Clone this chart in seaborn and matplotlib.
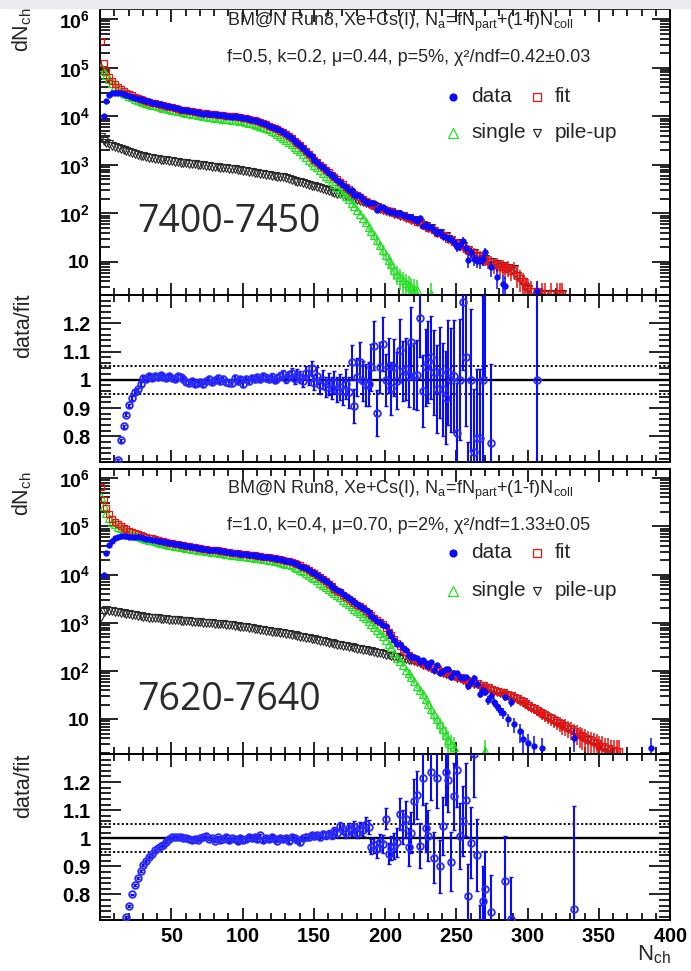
import numpy as np
import pandas as pd
import matplotlib
matplotlib.use("Agg")
import matplotlib.pyplot as plt
import seaborn as sns
from matplotlib.lines import Line2D
from matplotlib.patches import Rectangle
from matplotlib.ticker import FixedLocator, MultipleLocator, LogLocator, NullFormatter, FuncFormatter

nan = np.nan
BIN_START, BIN_WIDTH = 0.5, 2.0   # N_ch bin centres: 0.5, 2.5, 4.5, ...

# ================= panel 1 : 7400-7450 (log10 of dN_ch) =================
fit1_log10 = [
    5.56, 5.10, 4.93, 4.81, 4.72, 4.66, 4.61, 4.57, 4.53, 4.49,
    4.46, 4.43, 4.40, 4.38, 4.36, 4.34, 4.32, 4.30, 4.28, 4.27,
    4.26, 4.24, 4.23, 4.21, 4.20, 4.19, 4.17, 4.16, 4.14, 4.13,
    4.12, 4.11, 4.10, 4.09, 4.08, 4.07, 4.06, 4.06, 4.05, 4.04,
    4.04, 4.03, 4.02, 4.02, 4.01, 4.01, 4.00, 4.00, 3.99, 3.98,
    3.97, 3.96, 3.95, 3.93, 3.92, 3.90, 3.88, 3.86, 3.84, 3.81,
    3.79, 3.76, 3.73, 3.70, 3.67, 3.63, 3.59, 3.55, 3.50, 3.45,
    3.40, 3.34, 3.28, 3.22, 3.16, 3.10, 3.05, 3.00, 2.95, 2.90,
    2.85, 2.80, 2.75, 2.70, 2.65, 2.60, 2.55, 2.50, 2.45, 2.41,
    2.37, 2.33, 2.29, 2.25, 2.22, 2.19, 2.16, 2.13, 2.11, 2.09,
    2.07, 2.04, 2.04, 2.00, 1.99, 1.96, 1.96, 1.92, 1.91, 1.88,
    1.87, 1.83, 1.82, 1.77, 1.75, 1.70, 1.70, 1.65, 1.60, 1.60,
    1.55, 1.54, 1.48, 1.47, 1.41, 1.40, 1.34, 1.33, 1.26, 1.26,
    1.20, 1.19, 1.13, 1.12, 1.06, 1.07, 1.01, 1.00, 0.94, 0.96,
    0.90, 0.92, 0.86, 0.88, 0.82, 0.86, 0.72, 0.66, 0.60, 0.50,
    0.45, 0.40, nan, 0.40, nan, 0.35, 0.35, nan, 0.35, nan,
    0.35, 0.35, 0.35]
single1_log10 = [
    5.02, 4.93, 4.85, 4.76, 4.68, 4.62, 4.57, 4.53, 4.49, 4.45,
    4.42, 4.39, 4.36, 4.34, 4.32, 4.30, 4.28, 4.26, 4.24, 4.23,
    4.21, 4.20, 4.18, 4.17, 4.15, 4.14, 4.12, 4.11, 4.10, 4.08,
    4.07, 4.06, 4.05, 4.04, 4.03, 4.02, 4.01, 4.00, 3.99, 3.98,
    3.97, 3.97, 3.96, 3.95, 3.95, 3.94, 3.93, 3.93, 3.92, 3.91,
    3.90, 3.89, 3.87, 3.86, 3.84, 3.83, 3.81, 3.78, 3.76, 3.73,
    3.70, 3.67, 3.64, 3.60, 3.56, 3.52, 3.47, 3.42, 3.37, 3.33,
    3.29, 3.23, 3.17, 3.11, 3.05, 3.00, 2.95, 2.90, 2.84, 2.78,
    2.72, 2.66, 2.60, 2.54, 2.48, 2.42, 2.36, 2.29, 2.22, 2.15,
    2.07, 1.99, 1.91, 1.82, 1.73, 1.64, 1.55, 1.45, 1.35, 1.25,
    1.15, 1.04, 0.95, 0.84, 0.76, 0.69, 0.62, 0.56, 0.52, 0.48,
    0.45, 0.42, nan, nan, nan, nan, 0.35]
pileup1_log10 = [
    3.57, 3.50, 3.46, 3.42, 3.39, 3.36, 3.34, 3.32, 3.30, 3.28,
    3.26, 3.24, 3.22, 3.21, 3.19, 3.18, 3.16, 3.15, 3.14, 3.13,
    3.12, 3.11, 3.10, 3.09, 3.08, 3.07, 3.06, 3.05, 3.04, 3.03,
    3.03, 3.02, 3.02, 3.01, 3.00, 3.00, 2.99, 2.98, 2.97, 2.96,
    2.96, 2.95, 2.94, 2.94, 2.93, 2.92, 2.92, 2.91, 2.90, 2.89,
    2.88, 2.87, 2.86, 2.85, 2.84, 2.83, 2.82, 2.81, 2.80, 2.79,
    2.78, 2.77, 2.76, 2.75, 2.74, 2.72, 2.71, 2.69, 2.67, 2.65,
    2.64, 2.62, 2.61, 2.59, 2.57, 2.56, 2.54, 2.52, 2.50, 2.49,
    2.47, 2.45, 2.43, 2.41, 2.39, 2.37, 2.35, 2.33, 2.31, 2.29,
    2.27, 2.25, 2.23, 2.21, 2.19, 2.17, 2.15, 2.13, 2.10, 2.08,
    2.06, 2.03, 2.02, 1.99, 1.98, 1.95, 1.95, 1.91, 1.90, 1.87,
    1.86, 1.82, 1.81, 1.76, 1.74, 1.69, 1.69, 1.64, 1.59, 1.59,
    1.54, 1.53, 1.47, 1.46, 1.40, 1.39, 1.33, 1.32, 1.25, 1.25,
    1.19, 1.18, 1.12, 1.11, 1.05, 1.06, 1.00, 0.99, 0.93, 0.95,
    0.89, 0.91, 0.85, 0.87, 0.81, 0.85, 0.71, 0.65, 0.59, 0.49,
    0.44, 0.39, nan, 0.39, nan, 0.34, 0.34, nan, 0.34, nan,
    0.34, 0.34, 0.34]
data1_log10 = [
    nan, 4.00, 4.32, 4.43, 4.48, 4.47, 4.47, 4.47, 4.45, 4.43,
    4.42, 4.40, 4.38, 4.36, 4.35, 4.34, 4.32, 4.31, 4.28, 4.28,
    4.26, 4.25, 4.23, 4.21, 4.21, 4.19, 4.17, 4.17, 4.14, 4.13,
    4.12, 4.10, 4.10, 4.08, 4.08, 4.07, 4.05, 4.06, 4.05, 4.04,
    4.04, 4.03, 4.02, 4.02, 4.01, 4.01, 3.99, 4.00, 3.99, 3.98,
    3.96, 3.96, 3.95, 3.93, 3.92, 3.90, 3.88, 3.87, 3.84, 3.81,
    3.79, 3.76, 3.73, 3.71, 3.68, 3.63, 3.60, 3.56, 3.50, 3.46,
    3.40, 3.34, 3.29, 3.22, 3.18, 3.10, 3.06, 2.99, 2.95, 2.89,
    2.84, 2.79, 2.75, 2.68, 2.64, 2.58, 2.54, 2.48, 2.48, 2.37,
    2.37, 2.36, 2.29, 2.24, 2.21, 2.21, 2.21, 2.08, 2.13, 2.14,
    2.07, 2.06, 2.03, 2.02, 1.99, 2.00, 1.97, 1.94, 1.92, 1.93,
    1.88, 1.84, 1.91, 1.75, 1.77, 1.73, 1.73, 1.66, 1.59, 1.61,
    1.54, 1.51, 1.49, 1.47, 1.42, 1.31, 1.34, 1.44, 1.29, 1.04,
    1.20, 1.06, 1.03, 1.02, 1.06, 1.20, nan, 0.89, nan, 0.70,
    nan, 0.55, 0.50, nan, nan, nan, nan, nan, nan, nan,
    nan, nan, nan, 0.40]
ratio1 = [
    nan, nan, nan, nan, nan, nan, 0.716, 0.786, 0.835, 0.877,
    0.910, 0.935, 0.956, 0.966, 0.985, 1.008, 1.004, 1.012, 1.006, 1.015,
    1.010, 1.016, 1.011, 1.008, 1.014, 1.006, 1.004, 1.012, 1.009, 1.002,
    0.992, 0.988, 0.995, 0.986, 0.990, 0.993, 0.985, 0.996, 1.003, 0.991,
    0.998, 1.008, 0.995, 1.004, 0.992, 0.990, 0.988, 1.006, 0.994, 1.001,
    0.985, 1.002, 0.996, 1.007, 1.004, 1.010, 1.002, 1.012, 1.008, 1.003,
    1.010, 1.000, 1.006, 1.012, 1.020, 1.004, 1.016, 1.024, 1.002, 1.018,
    1.010, 0.995, 1.025, 1.005, 1.040, 0.990, 1.015, 0.980, 1.000, 0.975,
    0.985, 0.970, 0.990, 0.965, 0.975, 0.960, 0.985, 0.955, 1.062, 0.907,
    1.010, 1.062, 0.996, 0.980, 0.985, 1.044, 1.121, 0.883, 1.044, 1.127,
    1.000, 1.050, 0.970, 1.044, 0.996, 1.104, 1.032, 1.038, 1.014, 1.133,
    1.014, 1.017, 1.217, 0.960, 1.044, 1.062, 1.080, 1.026, 0.967, 1.026,
    0.967, 0.937, 1.026, 1.000, 1.014, 0.810, 1.000, 1.276, 1.080, 0.600,
    1.000, 0.746, 0.794, 0.794, 1.000, 1.350, nan, 0.776, nan, nan,
    nan, nan, nan, nan, nan, nan, nan, nan, nan, nan,
    nan, nan, nan, 1.000]

# ================= panel 2 : 7620-7640 (log10 of dN_ch) =================
fit2_log10 = [
    5.82, 5.55, 5.39, 5.26, 5.16, 5.10, 5.05, 5.01, 4.97, 4.94,
    4.91, 4.88, 4.86, 4.84, 4.82, 4.80, 4.78, 4.76, 4.75, 4.73,
    4.72, 4.70, 4.69, 4.68, 4.66, 4.65, 4.64, 4.63, 4.62, 4.61,
    4.60, 4.59, 4.58, 4.57, 4.56, 4.55, 4.54, 4.53, 4.52, 4.51,
    4.50, 4.50, 4.49, 4.48, 4.47, 4.46, 4.45, 4.45, 4.44, 4.43,
    4.42, 4.42, 4.41, 4.40, 4.40, 4.39, 4.38, 4.37, 4.36, 4.36,
    4.35, 4.34, 4.33, 4.32, 4.31, 4.29, 4.28, 4.26, 4.24, 4.21,
    4.19, 4.16, 4.13, 4.10, 4.06, 4.03, 3.99, 3.95, 3.90, 3.86,
    3.81, 3.76, 3.71, 3.67, 3.63, 3.58, 3.54, 3.50, 3.46, 3.42,
    3.38, 3.34, 3.30, 3.25, 3.20, 3.16, 3.11, 3.06, 3.02, 2.97,
    2.90, 2.82, 2.74, 2.66, 2.58, 2.52, 2.46, 2.40, 2.34, 2.29,
    2.25, 2.21, 2.19, 2.15, 2.14, 2.10, 2.09, 2.05, 2.04, 2.00,
    1.99, 1.96, 1.96, 1.92, 1.91, 1.87, 1.87, 1.83, 1.82, 1.78,
    1.79, 1.75, 1.76, 1.72, 1.71, 1.66, 1.67, 1.62, 1.60, 1.59,
    1.56, 1.56, 1.53, 1.51, 1.51, 1.47, 1.44, 1.40, 1.37, 1.33,
    1.30, 1.26, 1.23, 1.19, 1.16, 1.12, 1.09, 1.05, 1.02, 0.98,
    0.95, 0.92, 0.88, 0.86, 0.82, 0.79, 0.75, 0.72, 0.68, 0.65,
    0.62, 0.58, 0.56, 0.52, 0.50, 0.45, 0.45, 0.40, 0.40, 0.36,
    0.36, 0.35, 0.35]
single2_log10 = [
    5.60, 5.42, 5.28, 5.18, 5.10, 5.04, 4.99, 4.96, 4.93, 4.90,
    4.87, 4.84, 4.82, 4.80, 4.78, 4.76, 4.74, 4.72, 4.71, 4.69,
    4.68, 4.66, 4.65, 4.64, 4.62, 4.61, 4.60, 4.59, 4.58, 4.57,
    4.56, 4.55, 4.54, 4.53, 4.52, 4.51, 4.50, 4.49, 4.48, 4.47,
    4.46, 4.46, 4.45, 4.44, 4.43, 4.42, 4.41, 4.41, 4.40, 4.39,
    4.38, 4.38, 4.37, 4.36, 4.35, 4.35, 4.34, 4.33, 4.32, 4.31,
    4.30, 4.29, 4.28, 4.27, 4.25, 4.23, 4.21, 4.19, 4.16, 4.13,
    4.10, 4.07, 4.03, 4.00, 3.96, 3.92, 3.88, 3.83, 3.78, 3.74,
    3.70, 3.66, 3.62, 3.57, 3.53, 3.48, 3.44, 3.39, 3.34, 3.29,
    3.24, 3.20, 3.15, 3.10, 3.04, 2.98, 2.92, 2.86, 2.79, 2.72,
    2.65, 2.57, 2.49, 2.38, 2.28, 2.20, 2.12, 2.03, 1.95, 1.87,
    1.79, 1.70, 1.61, 1.52, 1.42, 1.32, 1.22, 1.11, 1.00, 0.90,
    0.80, 0.68, 0.58, 0.48, 0.42, nan, nan, nan, nan, nan,
    nan, nan, nan, nan, nan, 0.35]
pileup2_log10 = [
    3.12, 3.22, 3.26, 3.25, 3.24, 3.23, 3.22, 3.21, 3.20, 3.19,
    3.18, 3.17, 3.16, 3.15, 3.14, 3.13, 3.12, 3.11, 3.10, 3.10,
    3.09, 3.08, 3.08, 3.07, 3.06, 3.06, 3.05, 3.05, 3.04, 3.04,
    3.03, 3.03, 3.02, 3.02, 3.01, 3.01, 3.00, 3.00, 2.99, 2.99,
    2.98, 2.98, 2.97, 2.97, 2.96, 2.96, 2.95, 2.94, 2.93, 2.92,
    2.92, 2.91, 2.90, 2.89, 2.88, 2.87, 2.86, 2.85, 2.84, 2.83,
    2.82, 2.81, 2.80, 2.79, 2.78, 2.77, 2.76, 2.75, 2.74, 2.72,
    2.71, 2.70, 2.69, 2.68, 2.67, 2.66, 2.64, 2.63, 2.62, 2.61,
    2.59, 2.58, 2.56, 2.55, 2.54, 2.52, 2.51, 2.50, 2.49, 2.47,
    2.46, 2.45, 2.44, 2.43, 2.42, 2.41, 2.40, 2.38, 2.37, 2.36,
    2.34, 2.33, 2.32, 2.30, 2.29, 2.28, 2.26, 2.25, 2.23, 2.22,
    2.20, 2.18, 2.17, 2.13, 2.12, 2.08, 2.07, 2.03, 2.02, 1.98,
    1.97, 1.94, 1.94, 1.90, 1.89, 1.85, 1.85, 1.81, 1.80, 1.76,
    1.77, 1.73, 1.74, 1.70, 1.69, 1.64, 1.65, 1.60, 1.58, 1.57,
    1.54, 1.54, 1.51, 1.49, 1.49, 1.45, 1.42, 1.38, 1.35, 1.31,
    1.28, 1.24, 1.21, 1.17, 1.14, 1.10, 1.07, 1.03, 1.00, 0.96,
    0.93, 0.90, 0.86, 0.84, 0.80, 0.77, 0.73, 0.70, 0.66, 0.63,
    0.60, 0.56, 0.54, 0.50, 0.48, 0.43, 0.43, 0.38, 0.38, 0.34]
data2_log10 = [
    nan, 4.00, 4.45, 4.62, 4.70, 4.75, 4.79, 4.80, 4.80, 4.80,
    4.79, 4.78, 4.78, 4.77, 4.77, 4.76, 4.74, 4.73, 4.72, 4.71,
    4.70, 4.69, 4.68, 4.67, 4.66, 4.65, 4.64, 4.63, 4.62, 4.61,
    4.60, 4.59, 4.58, 4.57, 4.56, 4.55, 4.54, 4.53, 4.52, 4.51,
    4.50, 4.50, 4.49, 4.48, 4.47, 4.46, 4.45, 4.45, 4.44, 4.43,
    4.42, 4.42, 4.41, 4.40, 4.40, 4.39, 4.38, 4.37, 4.36, 4.36,
    4.35, 4.34, 4.33, 4.32, 4.31, 4.29, 4.28, 4.26, 4.24, 4.21,
    4.18, 4.16, 4.13, 4.10, 4.06, 4.03, 3.99, 3.95, 3.91, 3.86,
    3.82, 3.77, 3.72, 3.68, 3.65, 3.59, 3.55, 3.51, 3.47, 3.44,
    3.39, 3.35, 3.31, 3.27, 3.22, 3.15, 3.10, 3.04, 3.01, 2.96,
    2.93, 2.80, 2.72, 2.65, 2.57, 2.56, 2.48, 2.43, 2.33, 2.30,
    2.30, 2.27, 2.18, 2.23, 2.16, 2.10, 2.18, 2.02, 2.12, 1.95,
    2.01, 2.05, 2.04, 1.88, 1.97, 1.96, 1.87, 1.86, 1.88, 1.68,
    1.78, 1.86, 1.73, 1.53, 1.60, 1.57, 1.40, 1.49, 1.35, 1.28,
    1.20, 1.14, 1.46, 1.00, 1.36, 0.90, nan, 0.75, 0.60, nan,
    0.50, nan, 0.45, nan, nan, 0.40, nan, nan, nan, nan,
    nan, nan, nan, nan, nan, nan, 0.62, nan, nan, nan,
    nan, nan, nan, nan, nan, nan, nan, nan, nan, nan,
    nan, nan, nan, nan, nan, nan, nan, nan, nan, nan,
    nan, nan, nan, 0.40]
ratio2 = [
    nan, nan, nan, nan, nan, nan, nan, nan, nan, 0.720,
    0.760, 0.800, 0.832, 0.860, 0.883, 0.905, 0.919, 0.934, 0.943, 0.957,
    0.965, 0.972, 0.977, 0.988, 0.998, 1.003, 1.004, 1.003, 1.004, 1.002,
    1.000, 0.996, 0.993, 0.998, 0.995, 1.000, 1.003, 1.009, 0.998, 1.000,
    0.992, 1.003, 0.994, 0.998, 1.004, 0.993, 1.000, 0.996, 0.990, 1.002,
    0.994, 0.996, 1.006, 1.000, 1.004, 0.997, 1.010, 0.993, 1.001, 0.996,
    1.004, 0.998, 0.992, 1.002, 0.996, 1.000, 0.990, 1.004, 1.000, 0.994,
    0.985, 1.002, 1.006, 1.004, 1.010, 1.008, 1.012, 1.006, 1.015, 1.010,
    1.016, 1.012, 1.025, 1.020, 1.044, 1.030, 1.018, 1.035, 1.028, 1.040,
    1.020, 1.035, 1.030, 1.050, 1.040, 0.970, 0.975, 0.960, 0.985, 0.980,
    1.070, 0.945, 0.965, 0.972, 0.985, 1.085, 1.040, 1.067, 0.969, 1.020,
    1.131, 1.155, 0.974, 1.213, 1.038, 1.009, 1.236, 0.930, 1.213, 0.900,
    1.044, 1.236, 1.207, 0.916, 1.149, 1.242, 1.009, 1.062, 1.137, 0.794,
    0.984, 1.300, 0.940, 0.650, 0.777, 0.820, nan, 0.736, nan, nan,
    nan, nan, 0.849, nan, 0.713, nan, nan, nan, nan, nan,
    nan, nan, nan, nan, nan, nan, nan, nan, nan, nan,
    nan, nan, nan, nan, nan, nan, 0.748]

x_tick_values = [50, 100, 150, 200, 250, 300, 350, 400]
ratio_tick_values = [0.8, 0.9, 1.0, 1.1, 1.2]
ratio_tick_labels = ["0.8", "0.9", "1", "1.1", "1.2"]
log_tick_values = [1e1, 1e2, 1e3, 1e4, 1e5, 1e6]

header1 = r"BM@N Run8, Xe+Cs(I), N$_{\mathrm{a}}$=fN$_{\mathrm{part}}$+(1-f)N$_{\mathrm{coll}}$"
params1 = "f=0.5, k=0.2, μ=0.44, p=5%, χ²/ndf=0.42±0.03"
params2 = "f=1.0, k=0.4, μ=0.70, p=2%, χ²/ndf=1.33±0.05"
range1, range2 = "7400-7450", "7620-7640"
legend_labels = ["data", "fit", "single", "pile-up"]

# ================= styling =================
sns.set_theme(style="ticks")
plt.rcParams["font.family"] = ["Liberation Sans", "DejaVu Sans"]
plt.rcParams["mathtext.fontset"] = "custom"
plt.rcParams["mathtext.rm"] = "Liberation Sans"
plt.rcParams["mathtext.it"] = "Liberation Sans:italic"
plt.rcParams["mathtext.bf"] = "Liberation Sans:bold"

BLUE, RED, GREEN, GRAY = "#0a0aff", "#ee1111", "#22e022", "#2a2a2a"
RBLUE = "#2a2aff"

W, H = 691, 971
fig = plt.figure(figsize=(W / 100, H / 100), dpi=100)
fig.patch.set_facecolor("white")
fig.patches.append(Rectangle((0, 1 - 8 / H), 1, 8 / H, transform=fig.transFigure,
                             color="#e9ebee", zorder=0))


def fx(px):
    return px / W


def fy(py):
    return 1 - py / H


def make_axes(top, bottom):
    return fig.add_axes([fx(100), fy(bottom), (670 - 100) / W, (bottom - top) / H])


def bins(vals):
    v = np.asarray(vals, float)
    return BIN_START + BIN_WIDTH * np.arange(len(v)), v


def marker_series(ax, vals, marker, color, ms, filled=False, mew=1.0, z=3, log=True, mec=None):
    x, v = bins(vals)
    y = 10 ** v if log else v
    m = np.isfinite(y)
    df = pd.DataFrame({"x": x[m], "y": y[m]})
    sns.lineplot(data=df, x="x", y="y", ax=ax, estimator=None, linestyle="",
                 marker=marker, markersize=ms,
                 markerfacecolor=color if filled else "none",
                 markeredgecolor=mec or color, markeredgewidth=mew,
                 color=color, zorder=z, legend=False)


def error_series(ax, vals, color, lw=1.1, z=2, xmin=0):
    x, v = bins(vals)
    y = 10 ** v
    m = np.isfinite(y) & (x >= xmin)
    e = np.sqrt(y[m])
    lo = np.minimum(e, y[m] * 0.9)
    ax.errorbar(x[m], y[m], yerr=[lo, e], fmt="none", ecolor=color,
                elinewidth=lw, capsize=0, zorder=z)


def common_style(ax):
    ax.set_xlim(0, 400)
    ax.xaxis.set_major_locator(MultipleLocator(50))
    ax.xaxis.set_minor_locator(MultipleLocator(10))
    for s in ax.spines.values():
        s.set_linewidth(1.4)
        s.set_color("black")
        s.set_visible(True)
    ax.tick_params(which="both", direction="in", top=True, right=True,
                   width=1.2, color="black", labelcolor="black")
    ax.tick_params(axis="x", which="major", length=9)
    ax.tick_params(axis="x", which="minor", length=5)
    ax.set_facecolor("white")
    ax.set_xlabel("")
    ax.set_ylabel("")


def log_panel(ax, fit, single, pile, data, ylim):
    marker_series(ax, pile, "v", GRAY, 5.5, mew=0.8, z=2)
    error_series(ax, single, GREEN, xmin=170, z=2)
    marker_series(ax, single, "^", GREEN, 6, mew=0.9, z=3)
    error_series(ax, fit, RED, xmin=150, z=4)
    marker_series(ax, fit, "s", RED, 5, mew=0.9, z=4)
    error_series(ax, data, BLUE, xmin=130, z=5)
    marker_series(ax, data, "o", BLUE, 4, filled=True, mew=0.5, z=5)
    common_style(ax)
    ax.set_yscale("log")
    ax.set_ylim(*ylim)
    ax.yaxis.set_major_locator(FixedLocator(log_tick_values))
    ax.yaxis.set_major_formatter(FuncFormatter(
        lambda v, p: r"$\mathbf{10}$" if round(np.log10(v)) == 1
        else r"$\mathbf{10^{%d}}$" % round(np.log10(v))))
    ax.yaxis.set_minor_locator(LogLocator(base=10, subs=np.arange(2, 10), numticks=30))
    ax.yaxis.set_minor_formatter(NullFormatter())
    ax.tick_params(axis="y", which="major", length=13, labelsize=14, pad=7)
    ax.tick_params(axis="y", which="minor", length=7)
    ax.tick_params(axis="x", labelbottom=False)


def ratio_panel(ax, ratio, data, show_x):
    x, r = bins(ratio)
    d = np.asarray(data, float)[:len(r)]
    err = r * 10 ** (-d / 2)
    m = np.isfinite(r)
    ax.axhline(1.0, color="black", lw=1.7, zorder=1)
    ax.axhline(1.05, color="black", lw=1.3, ls=(0, (1.2, 1.2)), zorder=1)
    ax.axhline(0.95, color="black", lw=1.3, ls=(0, (1.2, 1.2)), zorder=1)
    ax.errorbar(x[m], r[m], yerr=err[m], fmt="none", ecolor=BLUE, elinewidth=1.5,
                capsize=1.6, capthick=1.0, zorder=3)
    marker_series(ax, ratio, "o", RBLUE, 4.8, mew=1.3, z=4, log=False)
    common_style(ax)
    ax.set_ylim(0.709, 1.30)
    ax.yaxis.set_major_locator(FixedLocator(ratio_tick_values))
    lab = dict(zip([round(v, 1) for v in ratio_tick_values], ratio_tick_labels))
    ax.yaxis.set_major_formatter(FuncFormatter(
        lambda v, p: r"$\mathbf{%s}$" % lab.get(round(v, 1), "")))
    ax.yaxis.set_minor_locator(MultipleLocator(0.02))
    ax.tick_params(axis="y", which="major", length=15, labelsize=14.5, pad=6)
    ax.tick_params(axis="y", which="minor", length=8)
    if show_x:
        ax.xaxis.set_major_formatter(FuncFormatter(
            lambda v, p: r"$\mathbf{%d}$" % v if int(round(v)) in x_tick_values else ""))
        ax.tick_params(axis="x", labelsize=14.5, pad=5)
    else:
        ax.tick_params(axis="x", labelbottom=False)


ax1 = make_axes(9, 295)
r1 = make_axes(295, 462)
ax2 = make_axes(469, 754)
r2 = make_axes(754, 920)

log_panel(ax1, fit1_log10, single1_log10, pileup1_log10, data1_log10, (10 ** 0.32, 10 ** 6.21))
ratio_panel(r1, ratio1, data1_log10, False)
log_panel(ax2, fit2_log10, single2_log10, pileup2_log10, data2_log10, (10 ** 0.28, 10 ** 6.19))
ratio_panel(r2, ratio2, data2_log10, True)


def annotate(top_line_y, params, row1, row2, range_text, range_y):
    fig.text(fx(227), fy(top_line_y), header1, fontsize=13, ha="left", va="center")
    fig.text(fx(227), fy(top_line_y + 36), params, fontsize=13, ha="left", va="center")
    items = [(453, row1, "o", BLUE, True, 5, legend_labels[0]),
             (537, row1, "s", RED, False, 5.5, legend_labels[1]),
             (453, row2, "^", GREEN, False, 6.5, legend_labels[2]),
             (537, row2, "v", GRAY, False, 6, legend_labels[3])]
    for xm, ym, mk, col, filled, ms, text in items:
        fig.add_artist(Line2D([fx(xm)], [fy(ym)], transform=fig.transFigure, marker=mk,
                              ms=ms, mfc=col if filled else "none", mec=col, mew=0.9, ls=""))
        fig.text(fx(xm + 18), fy(ym), text, fontsize=15, ha="left", va="center")
    fig.text(fx(137), fy(range_y), range_text, fontsize=27, color="#2b2b2b",
             family=["Open Sans", "DejaVu Sans"], ha="left", va="center")


annotate(22, params1, 97, 133, range1, 222)
annotate(490, params2, 553, 591, range2, 700)

ylab_kw = dict(rotation=90, ha="center", va="top", fontsize=15.5)
fig.text(fx(22), fy(7), r"dN$_{\mathrm{ch}}$", **ylab_kw)
fig.text(fx(22), fy(471), r"dN$_{\mathrm{ch}}$", **ylab_kw)
fig.text(fx(24), fy(294), "data/fit", **ylab_kw)
fig.text(fx(24), fy(753), "data/fit", **ylab_kw)
fig.text(fx(671), fy(955), r"N$_{\mathrm{ch}}$", fontsize=16, ha="right", va="center")

fig.savefig("out.png", dpi=100)
